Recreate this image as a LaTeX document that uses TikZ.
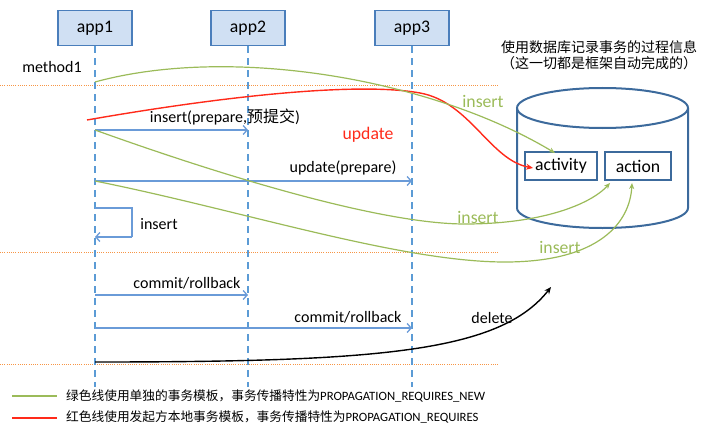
\documentclass[tikz,border=0pt]{standalone}
\usepackage{fontspec}
\setmainfont{Carlito}
\newfontfamily\cjk{Noto Sans CJK SC}
\usetikzlibrary{arrows.meta}
\definecolor{boxfill}{HTML}{D0E0F3}
\definecolor{boxdraw}{HTML}{4A7EBB}
\definecolor{lifec}{HTML}{5B9BD5}
\definecolor{msgc}{HTML}{6A9BD8}
\definecolor{grn}{HTML}{9BBB59}
\definecolor{rd}{HTML}{FF2A1A}
\definecolor{orng}{HTML}{F79646}
\definecolor{dbc}{HTML}{3C6A9C}
\begin{document}
\begin{tikzpicture}[x=1pt,y=-1pt,
  appbox/.style={draw=boxdraw,fill=boxfill,line width=1.5pt,minimum width=74pt,minimum height=35pt,inner sep=0pt,font=\fontsize{17.7}{20}\selectfont},
  life/.style={draw=lifec,line width=1.5pt,dash pattern=on 7pt off 5pt},
  sep/.style={draw=orng,line width=0.9pt,dash pattern=on 1pt off 1.2pt},
  msg/.style={draw=msgc,line width=1.3pt,-{Straight Barb[length=4pt,width=9pt,line width=1.3pt]}},
  lbl/.style={inner sep=0pt,font=\fontsize{16}{19}\selectfont},
  big/.style={inner sep=0pt,font=\fontsize{17.7}{20}\selectfont},
  gline/.style={draw=grn,line width=1.2pt,-{Stealth[length=6pt,width=5pt]}},
  tbl/.style={draw=dbc,line width=1.5pt,minimum height=28pt,inner sep=0pt,font=\fontsize{17.7}{20}\selectfont},
  leg/.style={anchor=west,inner sep=0pt,font=\fontsize{12.7}{15}\selectfont}
]
\useasboundingbox (0,0) rectangle (708,425);

% separators
\coordinate (d1a) at (0,85); \coordinate (d1b) at (499,85);
\coordinate (d2a) at (0,252); \coordinate (d2b) at (499,252);
\coordinate (d3a) at (0,364); \coordinate (d3b) at (499,364);
\draw[sep] (d1a) -- (d1b);
\draw[sep] (d2a) -- (d2b);
\draw[sep] (d3a) -- (d3b);

% participants
\node[appbox] (app1) at (95,28) {app1};
\node[appbox] (app2) at (248,28) {app2};
\node[appbox] (app3) at (412,28) {app3};
\coordinate (e1) at (95,387);
\coordinate (e2) at (248,387);
\coordinate (e3) at (412,387);
\draw[life] (app1.south) -- (e1);
\draw[life] (app2.south) -- (e2);
\draw[life] (app3.south) -- (e3);

\node[lbl] (meth) at (52,67) {method1};

% database
\draw[dbc,line width=2pt,fill=white] (517,108) -- (517,208) arc[start angle=180,end angle=0,x radius=85.5,y radius=20] -- (688,108);
\draw[dbc,line width=2pt] (602.5,108) ellipse[x radius=85.5,y radius=20];
\node[tbl,minimum width=72pt] (act) at (561,166) {activity};
\node[tbl,minimum width=66pt] (actn) at (638,166) {action};

\node[inner sep=0pt,font=\cjk\fontsize{14}{16}\selectfont] (title1) at (599,47) {使用数据库记录事务的过程信息};
\node[inner sep=0pt,font=\cjk\fontsize{14}{16}\selectfont] (title2) at (599,63) {（这一切都是框架自动完成的）};

% messages
\coordinate (m1a) at (95,130); \coordinate (m1b) at (248,130);
\draw[msg] (m1a) -- (m1b);
\node[lbl] (t1) at (225,117) {insert(prepare,{\cjk 预提交})};

\coordinate (m2a) at (95,181); \coordinate (m2b) at (412,181);
\draw[msg] (m2a) -- (m2b);
\node[lbl] (t2) at (343,168) {update(prepare)};

\coordinate (s1) at (95,208); \coordinate (s2) at (132,208);
\coordinate (s3) at (132,237); \coordinate (s4) at (95,237);
\draw[draw=msgc,line width=1.3pt] (s1) -- (s2) -- (s3);
\draw[msg] (s3) -- (s4);
\node[lbl] (t3) at (159,224) {insert};

\coordinate (m3a) at (95,295); \coordinate (m3b) at (248,295);
\draw[msg] (m3a) -- (m3b);
\node[lbl] (t4) at (187,283) {commit/rollback};

\coordinate (m4a) at (95,328); \coordinate (m4b) at (412,328);
\draw[msg] (m4a) -- (m4b);
\node[lbl] (t5) at (348,317) {commit/rollback};

% red curve
\coordinate (r0) at (87,120);
\coordinate (r1) at (420,93);
\coordinate (rend) at (533,168);
\draw[rd,line width=1.4pt,-{Stealth[length=7pt,width=6pt]}] (r0) .. controls (230,95) and (360,82) .. (r1) .. controls (470,102) and (490,160) .. (rend);
\node[big,text=rd] (tu) at (368,135) {update};

% green curves
\coordinate (g1a) at (95,82);
\coordinate (g1e) at (555,153);
\draw[gline] (g1a) .. controls (230,45) and (430,78) .. (g1e);
\node[big,text=grn] (gi1) at (483,101) {insert};

\coordinate (g2a) at (95,130);
\coordinate (g2m) at (465,224);
\coordinate (g2e) at (610,183);
\draw[gline] (g2a) .. controls (220,175) and (380,224) .. (g2m) .. controls (540,224) and (590,205) .. (g2e);
\node[big,text=grn] (gi2) at (478,217) {insert};

\coordinate (g3a) at (95,181);
\coordinate (g3m) at (505,262);
\coordinate (g3e) at (632,183);
\draw[gline] (g3a) .. controls (240,210) and (400,262) .. (g3m) .. controls (600,262) and (630,222) .. (g3e);
\node[big,text=grn] (gi3) at (560,247) {insert};

% black curve
\coordinate (b0) at (95,362);
\coordinate (bend) at (551,287);
\draw[black,line width=1.4pt,-{Stealth[length=7pt,width=6pt]}] (b0) .. controls (380,362) and (500,352) .. (bend);
\node[lbl] (td) at (492,318) {delete};

% legend
\coordinate (la) at (12,396); \coordinate (lb) at (57,396);
\coordinate (lc) at (12,418); \coordinate (ld) at (57,418);
\draw[grn,line width=1.3pt] (la) -- (lb);
\draw[rd,line width=2pt] (lc) -- (ld);
\node[leg] (leg1) at (66,396) {{\cjk 绿色线使用单独的事务模板，事务传播特性为}PROPAGATION\_REQUIRES\_NEW};
\node[leg] (leg2) at (66,417) {{\cjk 红色线使用发起方本地事务模板，事务传播特性为}PROPAGATION\_REQUIRES};
\end{tikzpicture}
\end{document}
